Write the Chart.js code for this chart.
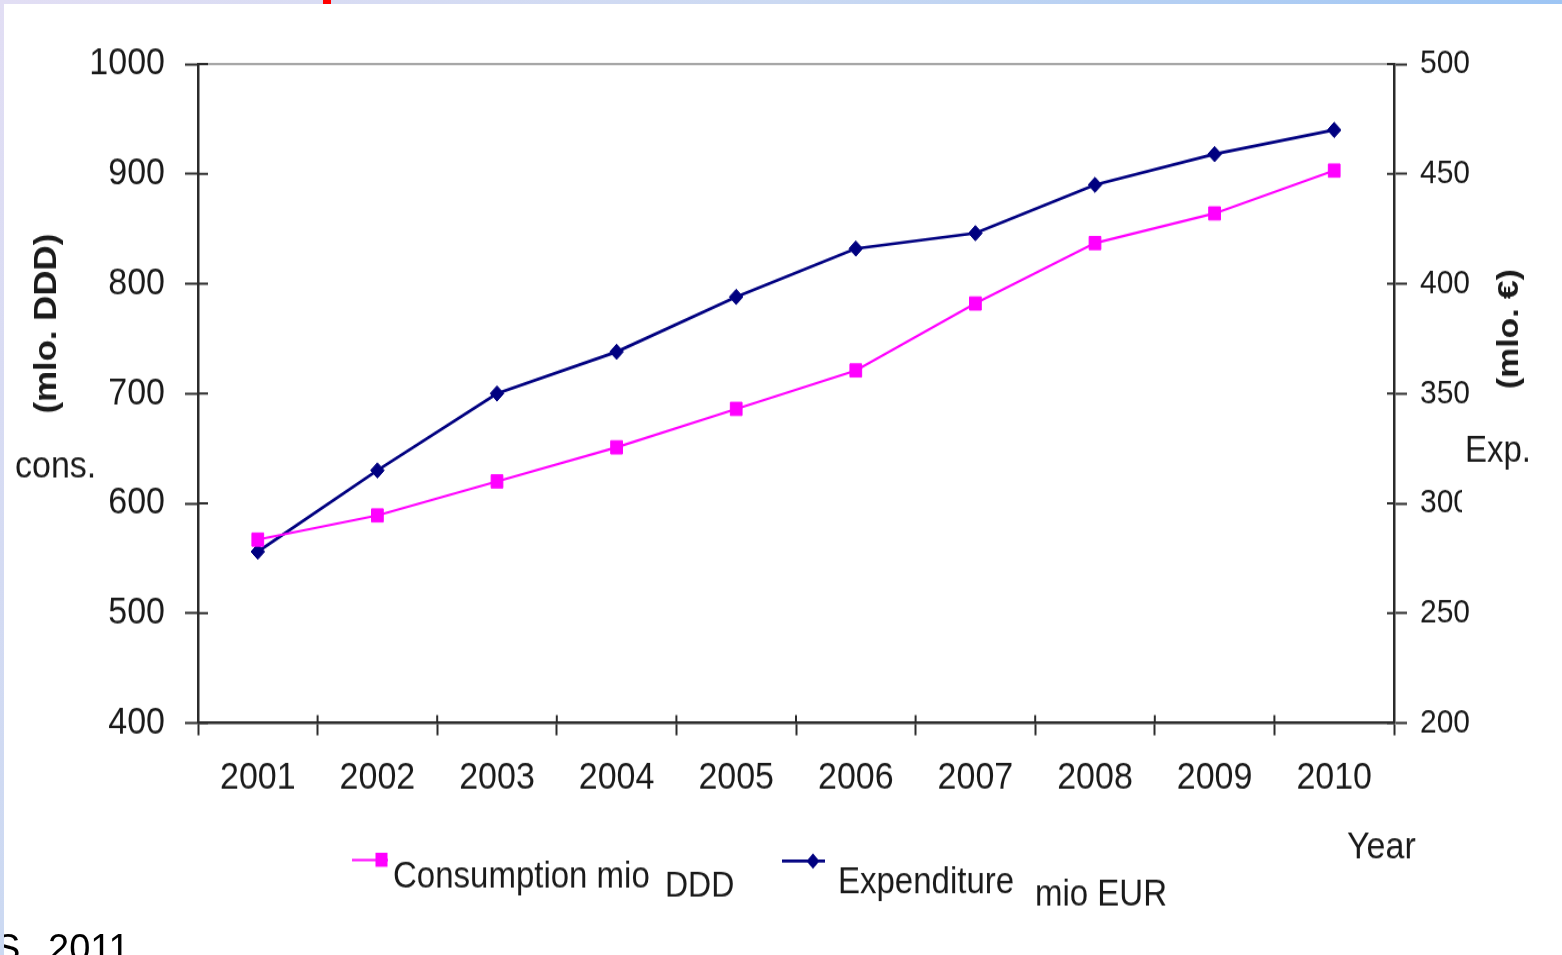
<!DOCTYPE html>
<html>
<head>
<meta charset="utf-8">
<script src="https://cdn.jsdelivr.net/npm/chart.js@4.4.1/dist/chart.umd.min.js"></script>
<style>
  html, body { margin: 0; padding: 0; background: #fff; overflow: hidden; }
  body { width: 1562px; height: 955px; position: relative; font-family: 'Liberation Sans', Arial, sans-serif; }
  #topBand { position: absolute; left: 0; top: 0; width: 1562px; height: 4px; background: linear-gradient(to right, #e2def4, #cbd9f2 50%, #9dc5f4); z-index: 2; }
  #redMark { position: absolute; left: 323px; top: 0; width: 8px; height: 4px; background: #f00; z-index: 3; }
  #leftBand { position: absolute; left: 0; top: 0; width: 4px; height: 955px; background: linear-gradient(to bottom, #e2def4, #cbd9f2); z-index: 2; }
  #wrap { position: absolute; left: 0; top: 0; width: 1562px; height: 850px; transform: scaleY(1.1235); transform-origin: 0 0; }
  .src { position: absolute; top: 929px; font-size: 38px; line-height: 38px; color: #000; white-space: nowrap; }
</style>
</head>
<body>
<div id="topBand"></div>
<div id="redMark"></div>
<div id="leftBand"></div>
<div id="wrap"><canvas id="graph" width="1562" height="850"></canvas></div>
<span class="src" style="left:-5px">S.</span>
<span class="src" style="left:48px">2011</span>
<script>
var years = ['2001', '2002', '2003', '2004', '2005', '2006', '2007', '2008', '2009', '2010'];
var consumption = [567, 589, 620, 651, 686, 721, 782, 837, 864, 903];   // mio DDD
var expenditure = [278, 315, 350, 369, 394, 416, 423, 445, 459, 470];   // mio EUR
var consTicks = [400, 500, 600, 700, 800, 900, 1000];
var expTicks = [200, 250, 300, 350, 400, 450, 500];

var AXIS = '#2b2b2b';
var TEXT = '#1a1a1a';
var FONT = "'Liberation Sans', Arial, sans-serif";
var PINK = '#ff00ff';
var NAVY = '#000080';

Chart.defaults.font.family = FONT;
Chart.defaults.color = TEXT;

function line(ctx, x1, y1, x2, y2) {
    ctx.beginPath();
    ctx.moveTo(x1, y1);
    ctx.lineTo(x2, y2);
    ctx.stroke();
}

// frame top, inner halves of the tick marks, axis titles and the legend
var decorations = {
    id: 'decorations',
    afterDraw: function (chart) {
        var ctx = chart.ctx;
        var a = chart.chartArea;
        var x = chart.scales.x, y = chart.scales.y, y1 = chart.scales.y1;
        ctx.save();

        ctx.strokeStyle = '#8a8a8a';
        ctx.lineWidth = 1.5;
        line(ctx, a.left, a.top, a.right, a.top);

        ctx.strokeStyle = AXIS;
        ctx.lineWidth = 2;
        y.ticks.forEach(function (t) {
            var py = y.getPixelForValue(t.value);
            line(ctx, a.left, py, a.left + 10, py);
        });
        y1.ticks.forEach(function (t) {
            var py = y1.getPixelForValue(t.value);
            line(ctx, a.right - 7, py, a.right, py);
        });
        for (var i = 0; i <= years.length; i++) {
            var px = x.getPixelForValue(i - 0.5);
            line(ctx, px, a.bottom - 7, px, a.bottom);
        }

        // left axis title
        ctx.fillStyle = TEXT;
        ctx.save();
        ctx.translate(47, 288);
        ctx.rotate(-Math.PI / 2);
        ctx.font = 'bold 31px ' + FONT;
        ctx.textAlign = 'center';
        ctx.textBaseline = 'middle';
        ctx.fillText('(mlo. DDD)', 0, 0);
        ctx.restore();
        ctx.font = '34px ' + FONT;
        ctx.textAlign = 'left';
        ctx.textBaseline = 'alphabetic';
        ctx.fillText('cons.', 15, 424.6);

        // right axis title
        ctx.save();
        ctx.translate(1510, 292.8);
        ctx.rotate(-Math.PI / 2);
        ctx.font = 'bold 30px ' + FONT;
        ctx.textAlign = 'center';
        ctx.textBaseline = 'middle';
        ctx.fillText('(mlo. \u20ac)', 0, 0);
        ctx.restore();
        ctx.fillStyle = '#fff';
        ctx.fillRect(1462, 382, 90, 82);
        ctx.fillStyle = TEXT;
        ctx.font = '33px ' + FONT;
        ctx.fillText('Exp.', 1465, 411.2);

        ctx.font = '34px ' + FONT;
        ctx.fillText('Year', 1347, 763.7);

        // legend
        var cons = chart.data.datasets[0], exp = chart.data.datasets[1];
        ctx.strokeStyle = cons.borderColor;
        ctx.lineWidth = 2.2;
        line(ctx, 352, 765.5, 388, 765.5);
        ctx.fillStyle = cons.backgroundColor;
        ctx.fillRect(375.5, 759, 12, 12.5);
        ctx.strokeStyle = exp.borderColor;
        ctx.lineWidth = 2.6;
        line(ctx, 782, 766.4, 825, 766.4);
        ctx.fillStyle = exp.backgroundColor;
        ctx.beginPath();
        ctx.moveTo(813, 759.5);
        ctx.lineTo(819.5, 766.4);
        ctx.lineTo(813, 773.3);
        ctx.lineTo(806.5, 766.4);
        ctx.closePath();
        ctx.fill();

        ctx.fillStyle = TEXT;
        ctx.font = '33px ' + FONT;
        ctx.fillText('Consumption mio', 393, 790.4);
        ctx.font = '32px ' + FONT;
        ctx.fillText('DDD', 665, 798.4);
        ctx.font = '33px ' + FONT;
        ctx.fillText('Expenditure', 838, 794.6);
        ctx.fillText('mio EUR', 1035, 806.4);

        ctx.restore();
    }
};

function plainLabel(value) {
    return String(value);
}

var chartCtx = document.getElementById('graph').getContext('2d');

var chart = new Chart(chartCtx, {
    type: 'line',
    data: {
        labels: years,
        datasets: [
            {
                label: 'Consumption mio DDD',
                data: consumption,
                yAxisID: 'y',
                borderColor: PINK,
                backgroundColor: PINK,
                borderWidth: 2.2,
                pointStyle: 'rect',
                pointRadius: 8.3,
                pointBorderWidth: 1,
                pointBorderColor: PINK,
                tension: 0
            },
            {
                label: 'Expenditure mio EUR',
                data: expenditure,
                yAxisID: 'y1',
                borderColor: NAVY,
                backgroundColor: NAVY,
                borderWidth: 2.7,
                pointStyle: 'rectRot',
                pointRadius: 6.8,
                pointBorderWidth: 1,
                pointBorderColor: NAVY,
                tension: 0
            }
        ]
    },
    options: {
        responsive: false,
        animation: false,
        layout: { padding: { top: 57, bottom: 0, left: 0, right: 0 } },
        plugins: {
            legend: { display: false },
            tooltip: { enabled: false }
        },
        scales: {
            x: {
                offset: true,
                grid: { offset: true, drawOnChartArea: false, tickLength: 11, tickWidth: 2, tickColor: AXIS },
                border: { display: true, color: AXIS, width: 2.5 },
                ticks: { font: { size: 34 }, color: TEXT, padding: 18, maxRotation: 0 },
                afterFit: function (scale) { scale.height = 206.5; }
            },
            y: {
                position: 'left',
                min: 400,
                max: 1000,
                afterBuildTicks: function (scale) {
                    scale.ticks = consTicks.map(function (v) { return { value: v }; });
                },
                grid: { drawOnChartArea: false, tickLength: 13, tickWidth: 2, tickColor: AXIS },
                border: { display: true, color: AXIS, width: 2.5 },
                ticks: { font: { size: 34 }, color: TEXT, padding: 20, callback: plainLabel },
                afterFit: function (scale) { scale.width = 198; }
            },
            y1: {
                position: 'right',
                min: 200,
                max: 500,
                afterBuildTicks: function (scale) {
                    scale.ticks = expTicks.map(function (v) { return { value: v }; });
                },
                grid: { drawOnChartArea: false, tickLength: 13, tickWidth: 2, tickColor: AXIS },
                border: { display: true, color: AXIS, width: 2.5 },
                ticks: { font: { size: 30 }, color: TEXT, padding: 13, callback: plainLabel },
                afterFit: function (scale) { scale.width = 168; }
            }
        }
    },
    plugins: [decorations]
});
</script>
</body>
</html>
